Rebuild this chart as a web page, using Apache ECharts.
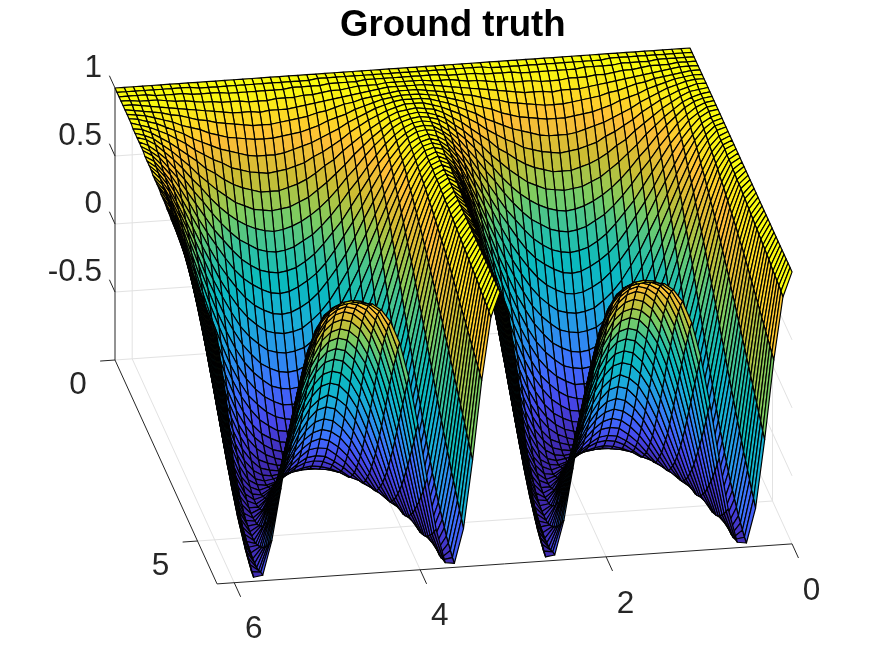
<!DOCTYPE html>
<html>
<head>
<meta charset="utf-8">
<style>html,body{margin:0;padding:0;background:#fff}#c{width:875px;height:656px}</style>
<script src="https://cdn.jsdelivr.net/npm/echarts@6/dist/echarts.min.js"></script>
</head>
<body>
<div id="c"></div>
<script>
const titleText = 'Ground truth';
const xTicks = [0, 2, 4, 6];
const xTickLabels = ['0', '2', '4', '6'];
const yTicks = [0, 5];
const yTickLabels = ['0', '5'];
const zTicks = [1, 0.5, 0, -0.5];
const zTickLabels = ['1', '0.5', '0', '-0.5'];
const xStep = 0.09817;
const yStep = 0.12127;
// Estimated surface heights in percent. Each line is one column at fixed x, from the back edge to the front edge.
const quarterColumns = [
[100,100,100,100,100,100,100,100,100,100,100,100,100,100,100,100,100,100,100,100,100,100,100,100,100,100,100,100,100,100,100,100,100,100,100,100,100,100,100,100,100,100,100,100,100,100,100,100,100,100,100,100],
[100,100,100,100,100,100,100,100,100,99,99,99,99,99,99,98,98,98,98,97,97,97,97,96,96,96,95,95,94,94,94,93,93,92,92,91,91,90,90,89,89,88,88,87,87,86,85,85,84,84,83,82],
[100,100,100,100,100,99,99,99,98,98,97,97,96,95,95,94,93,92,91,90,89,88,87,86,84,83,82,80,79,77,76,74,73,71,69,68,66,64,62,60,58,56,54,52,50,48,46,44,42,40,38,36],
[100,100,100,99,99,98,98,97,96,95,94,93,91,90,88,86,85,83,81,78,76,74,71,69,66,64,61,58,55,52,49,46,43,40,36,33,30,26,23,20,16,13,9,6,2,-1,-5,-8,-12,-15,-19,-22],
[100,100,100,99,98,97,96,95,93,91,89,87,85,82,80,77,74,70,67,64,60,56,52,48,44,40,36,31,27,22,18,13,9,4,-1,-5,-10,-15,-19,-24,-28,-33,-37,-41,-45,-50,-53,-57,-61,-65,-68,-72],
[100,100,99,99,97,96,94,92,90,87,84,81,77,74,70,65,61,56,52,47,41,36,31,25,20,14,8,3,-3,-9,-14,-20,-26,-31,-36,-42,-47,-52,-57,-61,-66,-70,-74,-78,-81,-84,-87,-90,-92,-94,-96,-97],
[100,100,99,98,96,94,92,89,86,82,78,74,69,64,59,53,47,41,35,29,22,15,9,2,-5,-11,-18,-25,-31,-37,-44,-50,-55,-61,-66,-71,-75,-80,-84,-87,-90,-93,-95,-97,-98,-99,-100,-100,-100,-99,-97,-96],
[100,100,99,97,95,93,89,86,82,77,72,66,60,54,47,41,33,26,18,11,3,-5,-12,-20,-27,-35,-42,-48,-55,-61,-67,-73,-78,-82,-86,-90,-93,-96,-98,-99,-100,-100,-100,-99,-97,-95,-92,-89,-85,-81,-76,-71],
[100,100,99,97,94,91,87,82,77,72,65,59,52,44,36,28,20,11,3,-6,-14,-23,-31,-39,-47,-54,-61,-68,-74,-79,-84,-89,-92,-95,-97,-99,-100,-100,-99,-98,-96,-93,-90,-85,-81,-75,-69,-63,-56,-49,-41,-33],
[100,100,98,96,93,89,85,79,73,66,59,51,43,34,26,16,7,-2,-12,-21,-30,-39,-47,-55,-63,-70,-76,-82,-87,-91,-95,-97,-99,-100,-100,-99,-97,-95,-91,-87,-82,-76,-70,-63,-55,-47,-39,-30,-21,-12,-2,7],
[100,99,98,95,92,88,82,76,69,62,53,44,35,26,16,6,-4,-14,-24,-34,-43,-52,-60,-68,-75,-81,-87,-91,-95,-98,-99,-100,-100,-98,-96,-93,-88,-83,-77,-70,-63,-55,-46,-37,-27,-17,-7,3,13,23,33,42],
[100,99,98,95,91,86,80,73,66,57,48,38,28,18,7,-3,-14,-25,-35,-45,-54,-63,-70,-78,-84,-89,-94,-97,-99,-100,-100,-98,-96,-93,-88,-82,-76,-68,-60,-52,-42,-32,-22,-11,-1,10,21,31,41,50,60,68],
[100,99,98,94,90,85,78,71,62,53,43,33,22,11,0,-11,-22,-33,-43,-53,-62,-70,-78,-85,-90,-94,-97,-99,-100,-99,-98,-95,-90,-85,-78,-71,-63,-54,-44,-34,-23,-12,-1,11,22,32,43,53,62,70,78,84],
[100,99,97,94,89,84,77,69,60,50,40,29,18,6,-5,-17,-28,-39,-50,-59,-68,-76,-83,-89,-94,-97,-99,-100,-99,-97,-94,-90,-84,-77,-69,-60,-51,-41,-30,-18,-7,5,16,28,38,49,59,67,76,83,89,93],
[100,99,97,94,89,83,76,67,58,48,37,26,14,2,-9,-21,-33,-44,-54,-64,-72,-80,-87,-92,-96,-99,-100,-100,-98,-95,-91,-85,-79,-71,-62,-52,-42,-31,-19,-7,5,17,28,39,50,60,69,77,84,90,94,98],
[100,99,97,93,89,82,75,66,57,46,36,24,12,0,-12,-24,-35,-46,-57,-66,-75,-82,-88,-93,-97,-99,-100,-99,-97,-94,-89,-82,-75,-66,-57,-47,-36,-24,-13,0,12,24,35,46,56,66,75,82,88,93,97,99],
[100,99,97,93,88,82,75,66,56,46,35,23,11,-1,-13,-25,-36,-47,-58,-67,-75,-83,-89,-94,-97,-99,-100,-99,-97,-93,-88,-81,-74,-65,-55,-45,-34,-22,-10,2,14,26,37,48,58,68,77,84,90,94,98,100]
];
const parulaStops = ['#3e26a8','#4747eb','#3e6ffe','#2994eb','#18afd6','#0ababe','#34c29e','#80cc5f','#cdbd32','#febe38','#f9fb0e'];

// The 64 columns: 0..16 as typed, 17..32 mirror 15..0, 33..63 mirror 31..1.
const halfColumns = quarterColumns.concat(quarterColumns.slice(0, 16).reverse());
const zColumns = halfColumns.concat(halfColumns.slice(1, 32).reverse());
const xCount = zColumns.length;
const yCount = zColumns[0].length;
const xMax = (xCount - 1) * xStep;
const yMax = (yCount - 1) * yStep;

// Orthographic view of the 3D box.
const view = { ox: 690, oy: 320, xx: -92.97, xy: 6.47, yx: 16.5, yy: 36.2, zy: -136 };
function project(x, y, z) {
  return [view.ox + view.xx * x + view.yx * y, view.oy + view.xy * x + view.yy * y + view.zy * (z + 1)];
}
function hex(c) { return [parseInt(c.substr(1,2),16), parseInt(c.substr(3,2),16), parseInt(c.substr(5,2),16)]; }
const stopRgb = parulaStops.map(hex);
function parula(z) {
  const t = Math.max(0, Math.min(0.99999, (z + 1) / 2)) * (stopRgb.length - 1);
  const k = Math.floor(t), f = t - k, a = stopRgb[k], b = stopRgb[k + 1];
  return 'rgb(' + [0,1,2].map(n => Math.round(a[n] + (b[n] - a[n]) * f)).join(',') + ')';
}

// Cells, back to front.
const cells = [];
for (let j = 0; j < yCount - 1; j++) for (let i = 0; i < xCount - 1; i++) cells.push([i, j]);

// Wall and floor grid lines, and axis lines with ticks.
const gridLines = [];
zTicks.forEach(z => {
  gridLines.push([xMax, 0, z, 0, 0, z]);
  gridLines.push([0, 0, z, 0, yMax, z]);
});
xTicks.forEach(x => {
  gridLines.push([x, 0, -1, x, 0, 1]);
  gridLines.push([x, 0, -1, x, yMax, -1]);
});
yTicks.forEach(y => {
  gridLines.push([xMax, y, -1, 0, y, -1]);
  gridLines.push([0, y, -1, 0, y, 1]);
});
const axisLines = [
  [xMax, 0, -1, xMax, 0, 1],
  [xMax, 0, -1, xMax, yMax, -1],
  [xMax, yMax, -1, 0, yMax, -1]
];
const zTickLen = 0.34, yTickLen = 0.16, xTickLen = 0.39;
zTicks.forEach(z => axisLines.push([xMax, 0, z, xMax, -zTickLen, z]));
yTicks.forEach(y => axisLines.push([xMax, y, -1, xMax + yTickLen, y, -1]));
xTicks.forEach(x => axisLines.push([x, yMax, -1, x, yMax + xTickLen, -1]));

const labels = [];
zTicks.forEach((z, k) => { const p = project(xMax, 0, z); labels.push([p[0] - 13, p[1] - 19.5, zTickLabels[k], 'right']); });
yTicks.forEach((y, k) => { const p = project(xMax, y, -1); labels.push([p[0] - 37, p[1] + 25, yTickLabels[k], 'center']); });
xTicks.forEach((x, k) => { const p = project(x, yMax, -1); labels.push([p[0] + 19.5, p[1] + 47, xTickLabels[k], 'center']); });

function segmentRenderer(color, width) {
  return function (params, api) {
    const s = params.dataIndex, d = params.seriesIndex === 0 ? gridLines[s] : axisLines[s];
    const a = api.coord(project(d[0], d[1], d[2])), b = api.coord(project(d[3], d[4], d[5]));
    return { type: 'line', shape: { x1: a[0], y1: a[1], x2: b[0], y2: b[1] }, style: { stroke: color, lineWidth: width, fill: null }, silent: true };
  };
}

const chart = echarts.init(document.getElementById('c'));
chart.setOption({
  animation: false,
  backgroundColor: '#fff',
  title: { text: titleText, left: 340, top: 7, padding: 0, textStyle: { fontFamily: 'Liberation Sans', fontWeight: 'bold', fontSize: 36.6, color: '#000' } },
  grid: { left: 0, right: 0, top: 0, bottom: 0 },
  xAxis: { type: 'value', min: 0, max: 875, show: false },
  yAxis: { type: 'value', min: 0, max: 656, inverse: true, show: false },
  tooltip: { show: false },
  series: [
    { type: 'custom', coordinateSystem: 'cartesian2d', data: gridLines.map((d, k) => [k, 0]), renderItem: segmentRenderer('#e2e2e2', 1), silent: true, clip: false, z: 1 },
    { type: 'custom', coordinateSystem: 'cartesian2d', data: cells, progressive: 0, silent: true, clip: false, z: 2,
      renderItem: function (params, api) {
        const i = api.value(0), j = api.value(1);
        const x0 = i * xStep, x1 = (i + 1) * xStep, y0 = j * yStep, y1 = (j + 1) * yStep;
        const pts = [
          api.coord(project(x0, y0, zColumns[i][j] / 100)),
          api.coord(project(x1, y0, zColumns[i + 1][j] / 100)),
          api.coord(project(x1, y1, zColumns[i + 1][j + 1] / 100)),
          api.coord(project(x0, y1, zColumns[i][j + 1] / 100))
        ];
        return { type: 'polygon', shape: { points: pts }, style: { fill: parula(zColumns[i][j] / 100), stroke: '#000', lineWidth: 1.2, lineJoin: 'round' }, silent: true };
      } },
    { type: 'custom', coordinateSystem: 'cartesian2d', data: axisLines.map((d, k) => [k, 0]), renderItem: segmentRenderer('#262626', 1), silent: true, clip: false, z: 3 },
    { type: 'custom', coordinateSystem: 'cartesian2d', data: labels.map((d, k) => [k, 0]), silent: true, clip: false, z: 4,
      renderItem: function (params, api) {
        const d = labels[params.dataIndex], p = api.coord([d[0], d[1]]);
        return { type: 'text', style: { text: d[2], x: p[0], y: p[1], fill: '#262626', font: '31.5px "Liberation Sans"', align: d[3], verticalAlign: 'middle' }, silent: true };
      } }
  ]
});
</script>
</body>
</html>
